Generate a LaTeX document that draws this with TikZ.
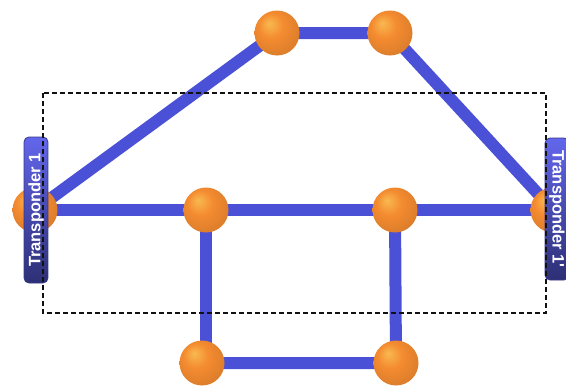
\documentclass[tikz,border=0pt]{standalone}
\usepackage{fontspec}
\usepackage{tikz}
\usetikzlibrary{backgrounds}
\newfontfamily\tagfont{Liberation Sans}
\definecolor{Link}{HTML}{4B51D6}
\definecolor{Ball}{HTML}{F48B30}
\definecolor{Tag}{HTML}{5A5EEA}
\definecolor{Frame}{HTML}{111111}
\pgfdeclareradialshading{sphere}{\pgfpoint{-9bp}{11bp}}{%
  color(0bp)=(Ball!75!yellow!80!white);
  color(14bp)=(Ball);
  color(34bp)=(Ball!88!black);
  color(52bp)=(Ball!62!black)}

\begin{document}
\begin{tikzpicture}[x=1pt,y=-1pt,
      site/.style={circle,minimum size=45pt,inner sep=0pt,shading=sphere},
      link/.style={line width=12pt,draw=Link},
      tag/.style={rounded corners=5pt,minimum height=24pt,inner sep=0pt,draw=Tag!60!black,line width=0.8pt,
        top color=Tag!95!white,bottom color=Tag!50!black,
        text=white,font=\tagfont\bfseries\fontsize{16.5}{17}\selectfont},
      frame/.style={draw=Frame,line width=1.6pt,dash pattern=on 5pt off 3pt}]
      \useasboundingbox (0,0) rectangle (566,388);
      \node[site] (top1) at (277,33) {};
      \node[site] (top2) at (390,33) {};
      \node[site] (west) at (35,210) {};
      \node[site] (mid1) at (206,210) {};
      \node[site] (mid2) at (395,210) {};
      \node[site] (east) at (553,210) {};
      \node[site] (bot1) at (202,363) {};
      \node[site] (bot2) at (396,363) {};
      \begin{scope}[on background layer]
        \draw[link] (west.center) -- (top1.center) -- (top2.center) -- (east.center);
        \draw[link] (west.center) -- (mid1.center) -- (mid2.center) -- (east.center);
        \draw[link] (mid1.center) -- (mid1.center |- bot1.center);
        \draw[link] (bot1.center) -- (bot2.center) -- (mid2.center);
      \end{scope}
      \node[tag,minimum width=146pt,rotate=90] (tpa) at (36,210) {Transponder 1};
      \node[tag,minimum width=142pt,rotate=-90] (tpb) at (557,209) {Transponder 1'};
      \draw[frame] (43,93) rectangle (546,313);
    \end{tikzpicture}
\end{document}
